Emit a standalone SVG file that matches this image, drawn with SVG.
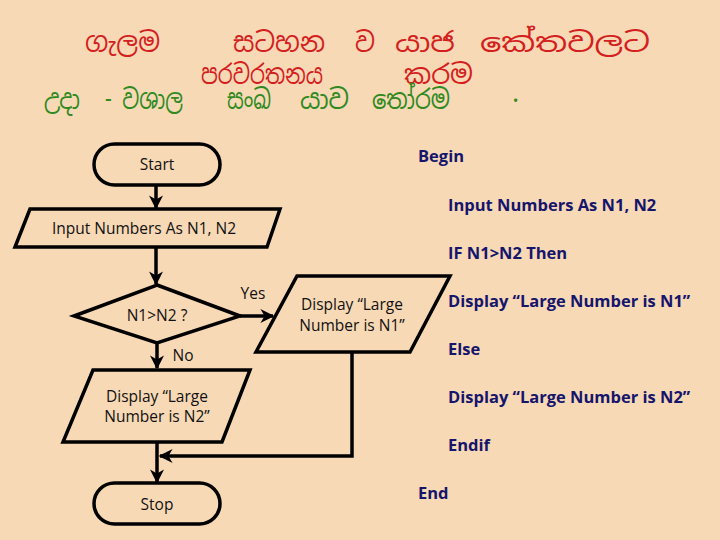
<svg xmlns="http://www.w3.org/2000/svg" width="720" height="540" viewBox="0 0 720 540">
<defs>
<marker id="ah" viewBox="0 0 10 10" refX="9" refY="5" markerWidth="4" markerHeight="4" orient="auto" markerUnits="strokeWidth">
<path d="M0,0 L10,5 L0,10 L3,5 z" fill="#000"/>
</marker>
<style>
.shape{fill:none;stroke:#000;stroke-width:3.5;stroke-linejoin:miter}
.con{fill:none;stroke:#000;stroke-width:3.5}
.ft{font-family:"Open Sans","Liberation Sans",sans-serif;font-size:15.5px;fill:#111;text-anchor:middle;dominant-baseline:central}
.pc{font-family:"Open Sans","Liberation Sans",sans-serif;font-size:16.5px;font-weight:bold;fill:#15156b;dominant-baseline:central}
.si{font-family:"Noto Sans Sinhala","Noto Serif Sinhala","Iskoola Pota","Noto Sans",sans-serif;font-size:27px;dominant-baseline:central}
.red{fill:#d41f1f}
.grn{fill:#2f8a1f}
</style>
</defs>
<rect width="720" height="540" fill="#f8d9b6"/>

<g id="title">
<text class="si red" x="85" y="42" textLength="75" lengthAdjust="spacingAndGlyphs">ගැලම</text>
<text class="si red" x="233" y="42" textLength="92" lengthAdjust="spacingAndGlyphs">සටහන</text>
<text class="si red" x="355" y="42" textLength="20" lengthAdjust="spacingAndGlyphs">ව</text>
<text class="si red" x="395" y="42" textLength="60" lengthAdjust="spacingAndGlyphs">යාජ</text>
<text class="si red" x="480" y="42" textLength="170" lengthAdjust="spacingAndGlyphs">කේතවලට</text>
<text class="si red" x="201" y="74" textLength="122" lengthAdjust="spacingAndGlyphs">පරවරතනය</text>
<text class="si red" x="404" y="74" textLength="69" lengthAdjust="spacingAndGlyphs">කරම</text>
<text class="si grn" x="44" y="99" textLength="36" lengthAdjust="spacingAndGlyphs">උදා</text>
<text class="si grn" x="105" y="99" textLength="78" lengthAdjust="spacingAndGlyphs">- වශාල</text>
<text class="si grn" x="227" y="99" textLength="44" lengthAdjust="spacingAndGlyphs">සංඛ</text>
<text class="si grn" x="300" y="99" textLength="49" lengthAdjust="spacingAndGlyphs">යාව</text>
<text class="si grn" x="372" y="99" textLength="78" lengthAdjust="spacingAndGlyphs">තෝරම</text>
<text class="si grn" x="512" y="92">.</text>
</g>

<g id="connectors">
<path class="con" d="M156,186 V208" marker-end="url(#ah)"/>
<path class="con" d="M156,248 V284" marker-end="url(#ah)"/>
<path class="con" d="M240,316 H273" marker-end="url(#ah)"/>
<path class="con" d="M157,343 V368" marker-end="url(#ah)"/>
<path class="con" d="M157,443 V482" marker-end="url(#ah)"/>
<path class="con" d="M352,353 V456 H160" marker-end="url(#ah)"/>
<text class="ft" x="253" y="293">Yes</text>
<text class="ft" x="183" y="355">No</text>
</g>

<g id="start">
<rect class="shape" x="94" y="144" width="126" height="41" rx="20.5"/>
<text class="ft" x="157" y="164">Start</text>
</g>

<g id="input">
<polygon class="shape" points="30,209 280,209 267,247 15,247"/>
<text class="ft" x="144" y="228">Input Numbers As N1, N2</text>
</g>

<g id="decision">
<polygon class="shape" points="157,285 240,316 157,343 74,316"/>
<text class="ft" x="157" y="315">N1&gt;N2 ?</text>
</g>

<g id="display1">
<polygon class="shape" points="297,276 450,276 410,352 256,352"/>
<text class="ft" x="352" y="304">Display “Large</text>
<text class="ft" x="352" y="325">Number is N1”</text>
</g>

<g id="display2">
<polygon class="shape" points="93,370 250,370 222,442 63,442"/>
<text class="ft" x="157" y="396">Display “Large</text>
<text class="ft" x="157" y="416">Number is N2”</text>
</g>

<g id="stop">
<rect class="shape" x="94" y="483" width="126" height="41" rx="20.5"/>
<text class="ft" x="157" y="504">Stop</text>
</g>

<g id="pseudocode">
<text class="pc" x="418" y="155">Begin</text>
<text class="pc" x="448" y="204">Input Numbers As N1, N2</text>
<text class="pc" x="448" y="252">IF N1&gt;N2 Then</text>
<text class="pc" x="448" y="300">Display “Large Number is N1”</text>
<text class="pc" x="448" y="348">Else</text>
<text class="pc" x="448" y="396">Display “Large Number is N2”</text>
<text class="pc" x="448" y="444">Endif</text>
<text class="pc" x="418" y="492">End</text>
</g>
</svg>
